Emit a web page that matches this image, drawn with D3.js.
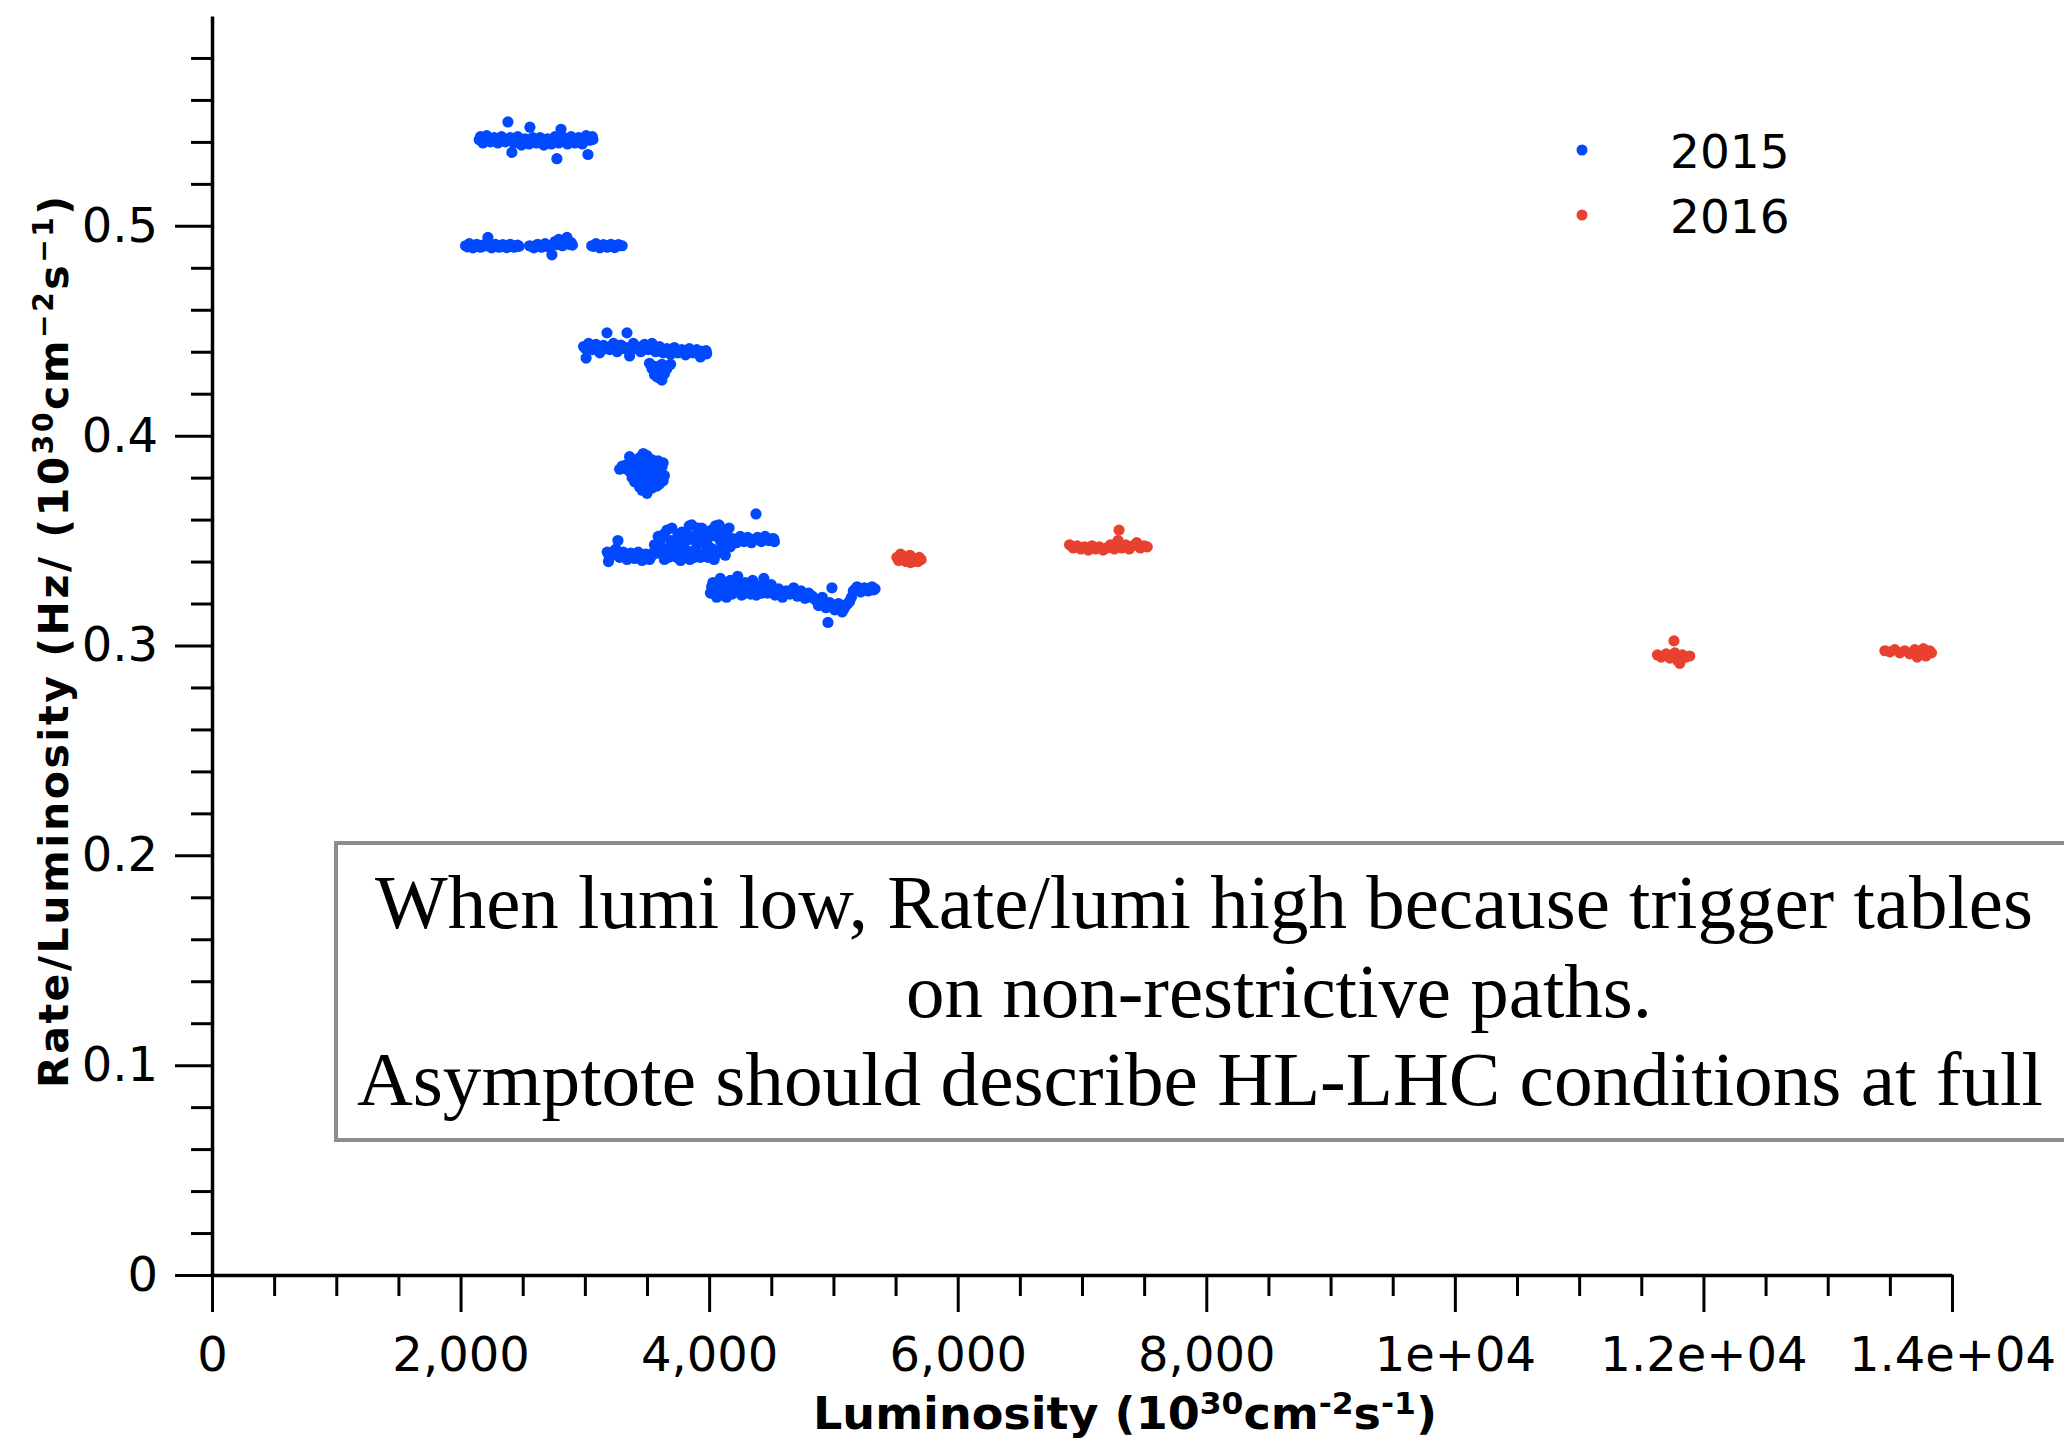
<!DOCTYPE html>
<html>
<head>
<meta charset="utf-8">
<script src="https://d3js.org/d3.v7.min.js"></script>
<style>
  body { margin: 0; background: #fff; }
</style>
</head>
<body>
<div class="chart"></div>
<script>
// Series names and colours
var seriesNames = ["2015", "2016"];
var seriesColors = ["#0049ff", "#e8412f"];

// 2015 points: [luminosity, rate/luminosity]
var points2015 = [
  // band near 0.54
  [2160, .5425], [2180, .5395], [2210, .5430], [2240, .5400], [2270, .5420], [2300, .5395],
  [2330, .5425], [2360, .5400], [2381, .5495], [2400, .5420], [2413, .5350], [2430, .5395],
  [2460, .5425], [2490, .5385], [2520, .5415], [2550, .5390], [2558, .5470], [2580, .5420],
  [2610, .5395], [2640, .5420], [2670, .5385], [2700, .5415], [2730, .5390], [2760, .5425],
  [2775, .5320], [2790, .5395], [2808, .5460], [2830, .5420], [2860, .5390], [2890, .5425],
  [2920, .5395], [2950, .5420], [2980, .5390], [3010, .5430], [3025, .5340], [3050, .5410],
  [3060, .5425],
  [2150, .5410], [2195, .5412], [2225, .5408], [2255, .5413], [2285, .5409], [2315, .5411],
  [2345, .5407], [2375, .5412], [2415, .5408], [2445, .5411], [2475, .5406], [2505, .5410],
  [2535, .5405], [2565, .5409], [2595, .5407], [2625, .5410], [2655, .5404], [2685, .5409],
  [2715, .5406], [2745, .5411], [2775, .5405], [2805, .5410], [2845, .5406], [2875, .5409],
  [2905, .5407], [2935, .5410], [2965, .5406], [2995, .5411], [3035, .5408], [3065, .5412],
  // band near 0.49
  [2040, .4905], [2070, .4915], [2100, .4895], [2130, .4912], [2160, .4898], [2190, .4910],
  [2220, .4945], [2250, .4895], [2280, .4912], [2310, .4898], [2340, .4910], [2370, .4896],
  [2400, .4912], [2430, .4898], [2460, .4908],
  [2055, .4900], [2085, .4908], [2115, .4902], [2145, .4906], [2175, .4903], [2205, .4905],
  [2235, .4902], [2265, .4906], [2295, .4903], [2325, .4905], [2355, .4902], [2385, .4906],
  [2415, .4903], [2445, .4905], [2470, .4902],
  [2555, .4905], [2590, .4895], [2620, .4912], [2650, .4898], [2680, .4915], [2710, .4900],
  [2735, .4862], [2760, .4925], [2790, .4935], [2820, .4905], [2856, .4945], [2890, .4920],
  [2570, .4902], [2605, .4905], [2635, .4903], [2665, .4906], [2695, .4903], [2725, .4906],
  [2775, .4910], [2805, .4912], [2840, .4915], [2875, .4912], [2900, .4908],
  [3055, .4905], [3090, .4915], [3120, .4895], [3150, .4910], [3180, .4898], [3210, .4912],
  [3240, .4896], [3270, .4910], [3300, .4905],
  [3070, .4902], [3105, .4905], [3135, .4903], [3165, .4906], [3195, .4903], [3225, .4905],
  [3255, .4903], [3285, .4906],
  // band near 0.44
  [2990, .4425], [3010, .4370], [3030, .4440], [3060, .4410], [3090, .4435], [3120, .4395],
  [3150, .4430], [3178, .4490], [3200, .4410], [3230, .4440], [3260, .4400], [3290, .4432],
  [3320, .4415], [3339, .4490], [3360, .4380], [3390, .4440], [3420, .4420], [3450, .4400],
  [3480, .4435], [3510, .4410], [3540, .4440], [3570, .4400], [3600, .4425], [3630, .4395],
  [3660, .4415], [3690, .4388], [3720, .4420], [3750, .4395], [3780, .4410], [3810, .4385],
  [3840, .4415], [3870, .4395], [3900, .4410], [3930, .4375], [3960, .4400], [3980, .4390],
  [3005, .4415], [3045, .4425], [3075, .4420], [3105, .4418], [3135, .4422], [3165, .4415],
  [3215, .4425], [3245, .4418], [3275, .4420], [3305, .4425], [3335, .4418], [3375, .4420],
  [3405, .4415], [3435, .4422], [3465, .4418], [3495, .4420], [3525, .4415], [3555, .4420],
  [3585, .4412], [3615, .4410], [3645, .4405], [3675, .4408], [3705, .4402], [3735, .4405],
  [3765, .4400], [3795, .4402], [3825, .4398], [3855, .4405], [3885, .4400], [3915, .4398],
  [3945, .4402], [3975, .4405],
  [3520, .4345], [3560, .4330], [3600, .4310], [3640, .4295], [3560, .4290], [3600, .4275],
  [3660, .4320], [3690, .4340], [3620, .4340], [3540, .4320], [3580, .4305], [3620, .4290],
  [3640, .4315], [3580, .4280], [3620, .4265],
  // blob near 0.38
  [3280, .3840], [3330, .3860], [3360, .3900], [3390, .3880], [3420, .3860], [3460, .3870],
  [3500, .3880], [3540, .3885], [3590, .3880], [3630, .3870], [3360, .3830], [3400, .3820],
  [3440, .3810], [3480, .3830], [3520, .3820], [3560, .3840], [3610, .3825], [3640, .3810],
  [3400, .3780], [3440, .3770], [3480, .3760], [3520, .3775], [3560, .3780], [3600, .3770],
  [3630, .3785], [3460, .3740], [3500, .3745], [3540, .3750],
  [3300, .3855], [3340, .3840], [3380, .3850], [3420, .3840], [3460, .3850], [3500, .3850],
  [3540, .3855], [3580, .3855], [3620, .3850], [3380, .3800], [3420, .3795], [3460, .3800],
  [3500, .3800], [3540, .3805], [3580, .3805], [3620, .3800], [3440, .3755], [3520, .3760],
  [3580, .3760], [3500, .3725], [3470, .3915], [3440, .3895], [3500, .3905],
  // band near 0.345
  [3180, .3445], [3190, .3400], [3220, .3430], [3250, .3460], [3266, .3500], [3280, .3420],
  [3310, .3445], [3340, .3410], [3370, .3440], [3400, .3415], [3430, .3445], [3460, .3405],
  [3490, .3435], [3520, .3410], [3545, .3440],
  [3195, .3425], [3235, .3450], [3265, .3430], [3295, .3435], [3325, .3425], [3355, .3430],
  [3385, .3425], [3415, .3430], [3445, .3425], [3475, .3420], [3505, .3425], [3535, .3425],
  [3560, .3480], [3590, .3520], [3620, .3450], [3640, .3410], [3660, .3550], [3690, .3500],
  [3710, .3440], [3730, .3470], [3750, .3530], [3770, .3405], [3790, .3490], [3810, .3540],
  [3830, .3450], [3850, .3510], [3860, .3575], [3880, .3420], [3900, .3480], [3920, .3530],
  [3940, .3560], [3960, .3440], [3980, .3500], [4000, .3470], [4020, .3550], [4040, .3410],
  [4060, .3520], [4080, .3575], [4100, .3460], [4120, .3530], [4140, .3490], [4160, .3560],
  [3575, .3440], [3605, .3495], [3635, .3530], [3655, .3460], [3675, .3420], [3700, .3560],
  [3720, .3500], [3740, .3420], [3760, .3470], [3780, .3540], [3800, .3440], [3820, .3500],
  [3840, .3570], [3845, .3410], [3870, .3520], [3890, .3450], [3910, .3560], [3930, .3420],
  [3950, .3490], [3970, .3545], [3990, .3420], [4010, .3520], [4030, .3460], [4050, .3570],
  [4070, .3440], [4090, .3500], [4110, .3550], [4130, .3430], [4150, .3520], [4170, .3470],
  [4190, .3510], [4220, .3490], [4250, .3520], [4280, .3495], [4310, .3515], [4340, .3490],
  [4377, .3627], [4390, .3515], [4420, .3495], [4450, .3520], [4480, .3500], [4510, .3510],
  [4525, .3495],
  [4205, .3500], [4235, .3505], [4265, .3510], [4295, .3505], [4325, .3502], [4355, .3505],
  [4405, .3505], [4435, .3508], [4465, .3510], [4495, .3505], [4520, .3508],
  // band near 0.325
  [4010, .3250], [4030, .3300], [4060, .3230], [4090, .3320], [4110, .3270], [4140, .3230],
  [4170, .3310], [4200, .3280], [4230, .3330], [4260, .3240], [4290, .3300], [4320, .3260],
  [4350, .3310], [4380, .3240], [4410, .3285], [4440, .3320], [4470, .3250],
  [4020, .3280], [4045, .3260], [4075, .3290], [4100, .3240], [4125, .3300], [4155, .3265],
  [4185, .3245], [4215, .3300], [4245, .3270], [4275, .3245], [4305, .3280], [4335, .3245],
  [4365, .3285], [4395, .3260], [4425, .3250], [4455, .3290], [4485, .3270],
  [4500, .3290], [4530, .3240], [4560, .3270], [4590, .3230], [4620, .3260], [4650, .3245],
  [4680, .3275], [4710, .3235], [4740, .3260], [4770, .3225], [4800, .3250], [4830, .3235],
  [4860, .3215],
  [4515, .3265], [4545, .3255], [4575, .3250], [4605, .3245], [4635, .3255], [4665, .3250],
  [4695, .3255], [4725, .3245], [4755, .3245], [4785, .3240], [4815, .3230], [4845, .3225],
  [4880, .3190], [4910, .3230], [4940, .3180], [4956, .3110], [4970, .3205], [4988, .3275],
  [5010, .3170], [5040, .3200], [5070, .3160], [5100, .3190], [5130, .3210],
  [4895, .3205], [4925, .3200], [4955, .3195], [4985, .3185], [5025, .3185], [5055, .3180],
  [5085, .3175], [5115, .3200], [5145, .3230],
  [5160, .3260], [5190, .3280], [5220, .3255], [5250, .3275], [5280, .3260], [5310, .3280],
  [5335, .3270],
  [5175, .3268], [5205, .3270], [5235, .3265], [5265, .3268], [5295, .3270], [5325, .3265]
];

// 2016 points
var points2016 = [
  [5510, .3420], [5540, .3435], [5570, .3410], [5600, .3425], [5620, .3395], [5650, .3415],
  [5680, .3400], [5705, .3410],
  [5525, .3405], [5555, .3420], [5585, .3400], [5615, .3430], [5645, .3400], [5690, .3420],
  [6900, .3480], [6930, .3465], [6960, .3475], [6990, .3460], [7020, .3470], [7050, .3455],
  [7080, .3475], [7110, .3460], [7140, .3470], [7170, .3455], [7200, .3465], [7230, .3480],
  [7260, .3460], [7298, .3550], [7290, .3500], [7320, .3465], [7350, .3480], [7380, .3460],
  [7410, .3475], [7440, .3490], [7470, .3465], [7500, .3475], [7525, .3470],
  [11630, .2955], [11660, .2945], [11700, .2960], [11730, .2940], [11763, .3022], [11770, .2965],
  [11790, .2930], [11810, .2915], [11830, .2955], [11860, .2945], [11890, .2950],
  [13460, .2975], [13500, .2970], [13540, .2980], [13580, .2965], [13620, .2975], [13660, .2960],
  [13700, .2980], [13720, .2945], [13740, .2970], [13770, .2985], [13790, .2950], [13820, .2975],
  [13835, .2965]
];

// Axis ticks and labels
var xMajorTicks = [0, 2000, 4000, 6000, 8000, 10000, 12000, 14000];
var xTickLabels = ["0", "2,000", "4,000", "6,000", "8,000", "1e+04", "1.2e+04", "1.4e+04"];
var yMajorTicks = [0, 0.1, 0.2, 0.3, 0.4, 0.5];
var yTickLabels = ["0", "0.1", "0.2", "0.3", "0.4", "0.5"];

// Annotation text
var noteLines = [
  "When lumi low, Rate/lumi high because trigger tables",
  "on non-restrictive paths.",
  "Asymptote should describe HL-LHC conditions at full"
];

// SVG area and margins
var svgWidth = 2064;
var svgHeight = 1442;
var chartMargin = { top: 16, right: 112, bottom: 167, left: 212 };
var chartWidth = svgWidth - chartMargin.left - chartMargin.right;
var chartHeight = svgHeight - chartMargin.top - chartMargin.bottom;

var svg = d3.select(".chart")
  .append("svg")
  .attr("width", svgWidth)
  .attr("height", svgHeight)
  .style("display", "block");

var chartGroup = svg.append("g")
  .attr("transform", `translate(${chartMargin.left}, ${chartMargin.top})`);

// Scales
var xScale = d3.scaleLinear().domain([0, 14000]).range([0, chartWidth]);
var yScale = d3.scaleLinear().domain([0, 0.6]).range([chartHeight, 0]);

// Minor ticks
var xMinorTicks = d3.range(0, 14001, 500).filter(d => d % 2000 !== 0);
var yMinorTicks = d3.range(1, 30).map(d => d / 50).filter((d, i) => (i + 1) % 5 !== 0);

// Axes
var bottomAxis = d3.axisBottom(xScale)
  .tickValues(xMajorTicks)
  .tickSize(37)
  .tickSizeOuter(0)
  .tickPadding(25)
  .tickFormat((d, i) => xTickLabels[i]);

var leftAxis = d3.axisLeft(yScale)
  .tickValues(yMajorTicks)
  .tickSize(37)
  .tickSizeOuter(0)
  .tickPadding(17)
  .tickFormat((d, i) => yTickLabels[i]);

chartGroup.append("g")
  .attr("transform", `translate(0, ${chartHeight})`)
  .call(d3.axisBottom(xScale).tickValues(xMinorTicks).tickSize(21).tickFormat(""))
  .call(g => g.select(".domain").remove());

chartGroup.append("g")
  .call(d3.axisLeft(yScale).tickValues(yMinorTicks).tickSize(21).tickFormat(""))
  .call(g => g.select(".domain").remove());

chartGroup.append("g")
  .attr("transform", `translate(0, ${chartHeight})`)
  .call(bottomAxis);

chartGroup.append("g")
  .call(leftAxis);

chartGroup.selectAll(".tick line").attr("stroke", "#000").attr("stroke-width", 3);
chartGroup.selectAll(".domain").attr("stroke", "#000").attr("stroke-width", 3.5);
chartGroup.selectAll(".tick text")
  .attr("font-family", "DejaVu Sans, sans-serif")
  .attr("font-size", 48)
  .attr("fill", "#000");

// Points
var seriesPoints = [points2015, points2016];
seriesPoints.forEach(function(pts, k) {
  chartGroup.append("g")
    .selectAll("circle")
    .data(pts)
    .enter()
    .append("circle")
    .attr("cx", d => xScale(d[0]))
    .attr("cy", d => yScale(d[1]))
    .attr("r", 5.6)
    .attr("fill", seriesColors[k]);
});

// Legend
var legend = svg.append("g").attr("transform", "translate(1582, 150)");
seriesNames.forEach(function(name, i) {
  legend.append("circle")
    .attr("cx", 0)
    .attr("cy", i * 65)
    .attr("r", 5.5)
    .attr("fill", seriesColors[i]);
  legend.append("text")
    .attr("x", 88)
    .attr("y", i * 65 + 18)
    .attr("font-family", "DejaVu Sans, sans-serif")
    .attr("font-size", 47)
    .text(name);
});

// Text with superscripts
function addParts(sel, parts, supSize, shift) {
  parts.forEach(function(p, i) {
    var prevSup = i > 0 && parts[i - 1][1];
    var t = sel.append("tspan").text(p[0]);
    if (p[1]) {
      t.attr("font-size", supSize).attr("dy", -shift);
    } else if (prevSup) {
      t.attr("dy", shift);
    }
  });
}

// Axis titles
var xTitle = svg.append("text")
  .attr("x", 813)
  .attr("y", 1429)
  .attr("font-family", "DejaVu Sans, sans-serif")
  .attr("font-weight", "bold")
  .attr("font-size", 44)
  .attr("textLength", 624)
  .attr("lengthAdjust", "spacingAndGlyphs");
addParts(xTitle, [["Luminosity (10", false], ["30", true], ["cm", false], ["-2", true],
  ["s", false], ["-1", true], [")", false]], 30, 15);

var yTitle = svg.append("text")
  .attr("transform", "translate(68, 642) rotate(-90)")
  .attr("text-anchor", "middle")
  .attr("font-family", "DejaVu Sans, sans-serif")
  .attr("font-weight", "bold")
  .attr("font-size", 41)
  .attr("textLength", 892)
  .attr("lengthAdjust", "spacing");
addParts(yTitle, [["Rate/Luminosity (Hz/ (10", false], ["30", true], ["cm", false], ["\u22122", true],
  ["s", false], ["\u22121", true], [")", false]], 28, 15);

// Annotation box
svg.append("rect")
  .attr("x", 336)
  .attr("y", 843)
  .attr("width", 1760)
  .attr("height", 297)
  .attr("fill", "none")
  .attr("stroke", "#8b8d90")
  .attr("stroke-width", 4);

var notePos = [[375, 928, 1658], [906, 1017, 746], [357, 1105, 1686]];
noteLines.forEach(function(line, i) {
  svg.append("text")
    .attr("x", notePos[i][0])
    .attr("y", notePos[i][1])
    .attr("textLength", notePos[i][2])
    .attr("lengthAdjust", "spacingAndGlyphs")
    .attr("font-family", "Liberation Serif, Times New Roman, serif")
    .attr("font-size", 76)
    .text(line);
});
</script>
</body>
</html>
